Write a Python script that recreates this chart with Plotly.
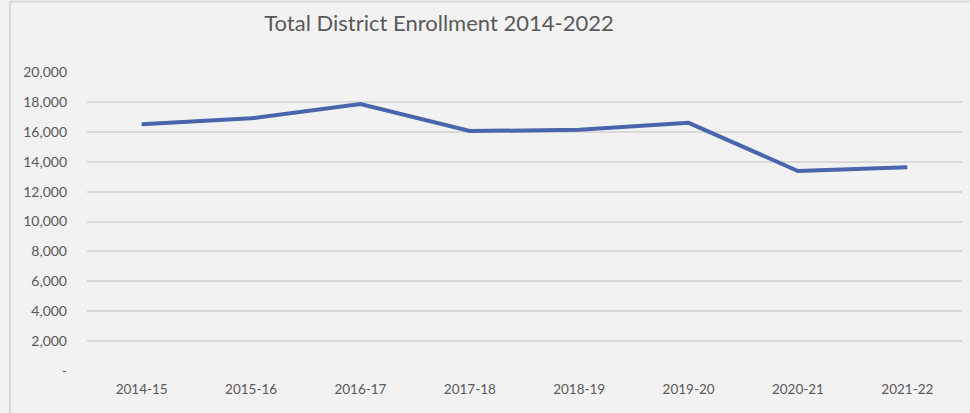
import plotly.graph_objects as go

years = ["2014-15", "2015-16", "2016-17", "2017-18", "2018-19", "2019-20", "2020-21", "2021-22"]
enrollment = [16500, 16900, 17850, 16050, 16130, 16600, 13380, 13630]
y_tickvals = [0, 2000, 4000, 6000, 8000, 10000, 12000, 14000, 16000, 18000, 20000]
y_ticktext = ["-", "2,000", "4,000", "6,000", "8,000", "10,000", "12,000", "14,000", "16,000", "18,000", "20,000"]
title_text = "Total District Enrollment 2014-2022"

W, H = 970, 413
L, R, T, B = 87, 8, 72, 42

fig = go.Figure()
fig.add_trace(go.Scatter(
    x=years, y=enrollment, mode="lines",
    line=dict(color="#4865AD", width=4),
    hoverinfo="x+y",
))

pw = W - L - R
ph = H - T - B

fig.update_layout(
    width=W, height=H,
    margin=dict(l=L, r=R, t=T, b=B),
    paper_bgcolor="#F2F2F2",
    plot_bgcolor="#F2F2F2",
    showlegend=False,
    font=dict(family="Lato, 'Open Sans', sans-serif", color="#595959", size=14),
    title=dict(text=title_text, x=439 / W, xanchor="center", y=1 - 23 / H, yanchor="middle",
               font=dict(size=22, color="#595959")),
    xaxis=dict(
        type="category", showgrid=False, zeroline=False, showline=False,
        ticks="", tickfont=dict(size=13.5, color="#595959"), ticklabelstandoff=8,
        range=[-0.5, len(years) - 0.5],
    ),
    yaxis=dict(
        range=[0, 20000], tickvals=y_tickvals, ticktext=y_ticktext,
        showgrid=True, gridcolor="#D9D9D9", gridwidth=1.5, zeroline=False,
        showline=False, ticks="", tickfont=dict(size=14, color="#595959"),
        ticklabelstandoff=19,
    ),
    shapes=[
        dict(type="line", xref="paper", yref="paper",
             x0=(10 - L) / pw, x1=(10 - L) / pw, y0=(H - B - H) / ph, y1=(H - B - 1.5) / ph,
             line=dict(color="#D9D9D9", width=2)),
        dict(type="line", xref="paper", yref="paper",
             x0=(10 - L) / pw, x1=(W - L) / pw, y0=(H - B - 1.5) / ph, y1=(H - B - 1.5) / ph,
             line=dict(color="#D9D9D9", width=2)),
    ],
)

fig.write_html(
    "out.html",
    config={"displayModeBar": False},
    post_script="document.body.style.margin='0';document.body.style.background='#F2F2F2';document.body.style.overflow='hidden';",
)
